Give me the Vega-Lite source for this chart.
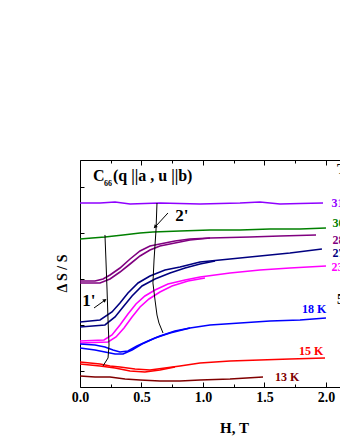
{
"$schema": "https://vega.github.io/schema/vega-lite/v6.json",
"width": 260, "height": 227,
"autosize": {"type": "none"},
"padding": {"left": 80, "top": 160, "right": 0, "bottom": 53},
"config": {"view": {"stroke": null}, "font": "Liberation Serif",
  "axis": {"grid": false, "domainColor": "black", "tickColor": "black", "labelColor": "black", "titleColor": "black", "labelFont": "Liberation Serif", "titleFont": "Liberation Serif", "labelFontWeight": "bold", "titleFontWeight": "bold", "labelFontSize": 14, "titleFontSize": 15}},
"datasets": {
"curves": [
{"s":"31 K","b":"a","h":0,"v":3.652},{"s":"31 K","b":"a","h":0.163,"v":3.652},{"s":"31 K","b":"a","h":0.285,"v":3.674},{"s":"31 K","b":"a","h":0.407,"v":3.63},{"s":"31 K","b":"a","h":0.65,"v":3.652},{"s":"31 K","b":"a","h":0.976,"v":3.63},{"s":"31 K","b":"a","h":1.301,"v":3.652},{"s":"31 K","b":"a","h":1.463,"v":3.674},{"s":"31 K","b":"a","h":1.626,"v":3.63},{"s":"31 K","b":"a","h":1.789,"v":3.641},{"s":"31 K","b":"a","h":1.976,"v":3.652},
{"s":"30 K","b":"a","h":0,"v":2.87},{"s":"30 K","b":"a","h":0.098,"v":2.891},{"s":"30 K","b":"a","h":0.203,"v":2.913},{"s":"30 K","b":"a","h":0.35,"v":2.957},{"s":"30 K","b":"a","h":0.488,"v":3.0},{"s":"30 K","b":"a","h":0.593,"v":3.022},{"s":"30 K","b":"a","h":0.813,"v":3.043},{"s":"30 K","b":"a","h":1.057,"v":3.065},{"s":"30 K","b":"a","h":1.301,"v":3.065},{"s":"30 K","b":"a","h":1.545,"v":3.087},{"s":"30 K","b":"a","h":1.789,"v":3.087},{"s":"30 K","b":"a","h":2.0,"v":3.109},
{"s":"28 K","b":"a","h":0,"v":1.957},{"s":"28 K","b":"a","h":0.122,"v":1.957},{"s":"28 K","b":"a","h":0.187,"v":2.0},{"s":"28 K","b":"a","h":0.244,"v":2.087},{"s":"28 K","b":"a","h":0.325,"v":2.239},{"s":"28 K","b":"a","h":0.407,"v":2.435},{"s":"28 K","b":"a","h":0.488,"v":2.609},{"s":"28 K","b":"a","h":0.569,"v":2.717},{"s":"28 K","b":"a","h":0.65,"v":2.761},{"s":"28 K","b":"a","h":0.772,"v":2.826},{"s":"28 K","b":"a","h":0.894,"v":2.87},{"s":"28 K","b":"a","h":1.057,"v":2.891},{"s":"28 K","b":"a","h":1.382,"v":2.913},{"s":"28 K","b":"a","h":1.626,"v":2.935},{"s":"28 K","b":"a","h":1.919,"v":2.957},
{"s":"28 K","b":"b","h":0,"v":1.913},{"s":"28 K","b":"b","h":0.163,"v":1.913},{"s":"28 K","b":"b","h":0.244,"v":2.0},{"s":"28 K","b":"b","h":0.325,"v":2.152},{"s":"28 K","b":"b","h":0.407,"v":2.326},{"s":"28 K","b":"b","h":0.488,"v":2.5},{"s":"28 K","b":"b","h":0.569,"v":2.63},{"s":"28 K","b":"b","h":0.65,"v":2.717},{"s":"28 K","b":"b","h":0.772,"v":2.783},{"s":"28 K","b":"b","h":0.894,"v":2.848},{"s":"28 K","b":"b","h":1.057,"v":2.891},
{"s":"27 K","b":"a","h":0,"v":1.065},{"s":"27 K","b":"a","h":0.163,"v":1.109},{"s":"27 K","b":"a","h":0.26,"v":1.283},{"s":"27 K","b":"a","h":0.325,"v":1.478},{"s":"27 K","b":"a","h":0.39,"v":1.696},{"s":"27 K","b":"a","h":0.472,"v":1.913},{"s":"27 K","b":"a","h":0.569,"v":2.065},{"s":"27 K","b":"a","h":0.691,"v":2.196},{"s":"27 K","b":"a","h":0.813,"v":2.261},{"s":"27 K","b":"a","h":0.976,"v":2.37},{"s":"27 K","b":"a","h":1.22,"v":2.435},{"s":"27 K","b":"a","h":1.463,"v":2.5},{"s":"27 K","b":"a","h":1.707,"v":2.565},{"s":"27 K","b":"a","h":1.967,"v":2.652},
{"s":"27 K","b":"b","h":0,"v":0.957},{"s":"27 K","b":"b","h":0.203,"v":1.0},{"s":"27 K","b":"b","h":0.285,"v":1.174},{"s":"27 K","b":"b","h":0.35,"v":1.391},{"s":"27 K","b":"b","h":0.423,"v":1.63},{"s":"27 K","b":"b","h":0.504,"v":1.848},{"s":"27 K","b":"b","h":0.61,"v":2.0},{"s":"27 K","b":"b","h":0.732,"v":2.13},{"s":"27 K","b":"b","h":0.854,"v":2.239},{"s":"27 K","b":"b","h":0.976,"v":2.326},{"s":"27 K","b":"b","h":1.098,"v":2.391},
{"s":"23 K","b":"a","h":0,"v":0.652},{"s":"23 K","b":"a","h":0.195,"v":0.674},{"s":"23 K","b":"a","h":0.26,"v":0.783},{"s":"23 K","b":"a","h":0.325,"v":1.0},{"s":"23 K","b":"a","h":0.39,"v":1.239},{"s":"23 K","b":"a","h":0.455,"v":1.457},{"s":"23 K","b":"a","h":0.528,"v":1.63},{"s":"23 K","b":"a","h":0.61,"v":1.761},{"s":"23 K","b":"a","h":0.715,"v":1.891},{"s":"23 K","b":"a","h":0.854,"v":1.978},{"s":"23 K","b":"a","h":0.976,"v":2.043},{"s":"23 K","b":"a","h":1.22,"v":2.13},{"s":"23 K","b":"a","h":1.463,"v":2.196},{"s":"23 K","b":"a","h":1.707,"v":2.239},{"s":"23 K","b":"a","h":2.0,"v":2.283},
{"s":"23 K","b":"b","h":0,"v":0.609},{"s":"23 K","b":"b","h":0.228,"v":0.63},{"s":"23 K","b":"b","h":0.293,"v":0.739},{"s":"23 K","b":"b","h":0.358,"v":0.935},{"s":"23 K","b":"b","h":0.423,"v":1.174},{"s":"23 K","b":"b","h":0.488,"v":1.391},{"s":"23 K","b":"b","h":0.561,"v":1.565},{"s":"23 K","b":"b","h":0.65,"v":1.717},{"s":"23 K","b":"b","h":0.748,"v":1.848},{"s":"23 K","b":"b","h":0.878,"v":1.957},{"s":"23 K","b":"b","h":1.016,"v":2.022},
{"s":"18 K","b":"a","h":0,"v":0.587},{"s":"18 K","b":"a","h":0.122,"v":0.565},{"s":"18 K","b":"a","h":0.203,"v":0.522},{"s":"18 K","b":"a","h":0.268,"v":0.457},{"s":"18 K","b":"a","h":0.325,"v":0.413},{"s":"18 K","b":"a","h":0.39,"v":0.435},{"s":"18 K","b":"a","h":0.463,"v":0.543},{"s":"18 K","b":"a","h":0.553,"v":0.652},{"s":"18 K","b":"a","h":0.65,"v":0.761},{"s":"18 K","b":"a","h":0.772,"v":0.87},{"s":"18 K","b":"a","h":0.894,"v":0.935},{"s":"18 K","b":"a","h":1.057,"v":1.0},{"s":"18 K","b":"a","h":1.301,"v":1.043},{"s":"18 K","b":"a","h":1.545,"v":1.087},{"s":"18 K","b":"a","h":1.789,"v":1.109},{"s":"18 K","b":"a","h":2.0,"v":1.152},
{"s":"18 K","b":"b","h":0,"v":0.5},{"s":"18 K","b":"b","h":0.122,"v":0.457},{"s":"18 K","b":"b","h":0.203,"v":0.413},{"s":"18 K","b":"b","h":0.285,"v":0.37},{"s":"18 K","b":"b","h":0.35,"v":0.37},{"s":"18 K","b":"b","h":0.423,"v":0.457},{"s":"18 K","b":"b","h":0.504,"v":0.587},{"s":"18 K","b":"b","h":0.61,"v":0.717},{"s":"18 K","b":"b","h":0.732,"v":0.826},{"s":"18 K","b":"b","h":0.894,"v":0.935},
{"s":"15 K","b":"a","h":0,"v":0.196},{"s":"15 K","b":"a","h":0.081,"v":0.174},{"s":"15 K","b":"a","h":0.163,"v":0.152},{"s":"15 K","b":"a","h":0.244,"v":0.109},{"s":"15 K","b":"a","h":0.325,"v":0.087},{"s":"15 K","b":"a","h":0.447,"v":0.043},{"s":"15 K","b":"a","h":0.569,"v":0.022},{"s":"15 K","b":"a","h":0.691,"v":0.065},{"s":"15 K","b":"a","h":0.813,"v":0.109},{"s":"15 K","b":"a","h":0.976,"v":0.174},{"s":"15 K","b":"a","h":1.22,"v":0.217},{"s":"15 K","b":"a","h":1.463,"v":0.239},{"s":"15 K","b":"a","h":1.707,"v":0.261},{"s":"15 K","b":"a","h":1.992,"v":0.283},
{"s":"15 K","b":"b","h":0,"v":0.152},{"s":"15 K","b":"b","h":0.163,"v":0.109},{"s":"15 K","b":"b","h":0.285,"v":0.065},{"s":"15 K","b":"b","h":0.407,"v":0.0},{"s":"15 K","b":"b","h":0.528,"v":-0.022},{"s":"15 K","b":"b","h":0.65,"v":0.022},{"s":"15 K","b":"b","h":0.772,"v":0.087},
{"s":"13 K","b":"a","h":0,"v":-0.109},{"s":"13 K","b":"a","h":0.122,"v":-0.13},{"s":"13 K","b":"a","h":0.244,"v":-0.13},{"s":"13 K","b":"a","h":0.366,"v":-0.174},{"s":"13 K","b":"a","h":0.488,"v":-0.196},{"s":"13 K","b":"a","h":0.65,"v":-0.217},{"s":"13 K","b":"a","h":0.813,"v":-0.217},{"s":"13 K","b":"a","h":0.976,"v":-0.196},{"s":"13 K","b":"a","h":1.22,"v":-0.174},{"s":"13 K","b":"a","h":1.488,"v":-0.13}
],
"guides": [
{"g":"1'","i":0,"h":0.203,"v":2.957},{"g":"1'","i":1,"h":0.211,"v":2.413},{"g":"1'","i":2,"h":0.22,"v":1.761},{"g":"1'","i":3,"h":0.228,"v":1.109},{"g":"1'","i":4,"h":0.236,"v":0.565},{"g":"1'","i":5,"h":0.228,"v":0.283},{"g":"1'","i":6,"h":0.187,"v":0.109},
{"g":"2'","i":0,"h":0.626,"v":3.652},{"g":"2'","i":1,"h":0.618,"v":3.065},{"g":"2'","i":2,"h":0.602,"v":2.413},{"g":"2'","i":3,"h":0.593,"v":1.913},{"g":"2'","i":4,"h":0.61,"v":1.543},{"g":"2'","i":5,"h":0.626,"v":1.217},{"g":"2'","i":6,"h":0.642,"v":1.043},{"g":"2'","i":7,"h":0.675,"v":0.826},
{"g":"a1","i":0,"h":0.114,"v":1.37},{"g":"a1","i":1,"h":0.198,"v":1.53},
{"g":"a2","i":0,"h":0.715,"v":3.435},{"g":"a2","i":1,"h":0.614,"v":3.14}
],
"heads1": [{"h":0.203,"v":1.543}],
"heads2": [{"h":0.61,"v":3.13}],
"tlabels": [
{"s":"31 K","h":2.045,"v":3.652},{"s":"30 K","h":2.053,"v":3.217},{"s":"28 K","h":2.053,"v":2.848},{"s":"27 K","h":2.053,"v":2.565},{"s":"23 K","h":2.045,"v":2.261},{"s":"18 K","h":1.805,"v":1.348},{"s":"15 K","h":1.78,"v":0.435},{"s":"13 K","h":1.585,"v":-0.141}
],
"marks": [{"t":"1'","h":0.073,"v":1.522},{"t":"2'","h":0.829,"v":3.37}],
"title1": [{"t":"C","h":0.106,"v":4.24},{"t":"(q ||a , u ||b)","h":0.268,"v":4.24}],
"title2": [{"t":"66","h":0.195,"v":4.06}],
"misc": [{"t":"5","h":2.089,"v":1.543},{"t":"T","h":2.089,"v":4.37}]
},
"layer": [
{"data": {"name": "curves"}, "mark": {"type": "line", "strokeWidth": 1.6, "clip": true},
 "encoding": {
  "x": {"field": "h", "type": "quantitative", "scale": {"domain": [0, 2.114], "nice": false, "zero": false},
        "axis": {"orient": "bottom", "values": [0,0.25,0.5,0.75,1,1.25,1.5,1.75,2], "labelExpr": "datum.value*2 == round(datum.value*2) ? format(datum.value, '.1f') : ''",
                 "tickSize": {"condition": {"test": "datum.value*2 == round(datum.value*2)", "value": -5}, "value": -3},
                 "labelPadding": 8, "title": "H, T", "titlePadding": 14, "titleX": 154, "labelFlush": false, "labelOverlap": false}},
  "y": {"field": "v", "type": "quantitative", "scale": {"domain": [-0.348, 4.587], "nice": false, "zero": false},
        "axis": {"orient": "left", "values": [0,1,2,3,4], "tickSize": -4, "labels": false, "title": "Δ S / S", "titleFontSize": 14, "titleX": -11, "titleY": 113, "titleAngle": -90, "titleBaseline": "bottom", "titleAlign": "center"}},
  "color": {"field": "s", "type": "nominal", "legend": null,
        "scale": {"domain": ["31 K","30 K","28 K","27 K","23 K","18 K","15 K","13 K"], "range": ["#8f00ff","#008000","#800080","#000080","#ff00ff","#0000ff","#ff0000","#800000"]}},
  "detail": {"field": "b"}
 }},
{"data": {"name": "guides"}, "mark": {"type": "line", "color": "black", "strokeWidth": 1},
 "encoding": {
  "x": {"field": "h", "type": "quantitative",
        "axis": {"orient": "top", "values": [0,0.25,0.5,0.75,1,1.25,1.5,1.75,2], "labels": false, "title": null,
                 "tickSize": {"condition": {"test": "datum.value*2 == round(datum.value*2)", "value": -5}, "value": -3}}},
  "y": {"field": "v", "type": "quantitative", "axis": null},
  "detail": {"field": "g"},
  "order": {"field": "i"}
 }},
{"data": {"name": "heads1"}, "mark": {"type": "point", "shape": "triangle-up", "filled": true, "color": "black", "size": 18, "angle": 54, "opacity": 1},
 "encoding": {"x": {"field": "h", "type": "quantitative", "axis": null}, "y": {"field": "v", "type": "quantitative", "axis": null}}},
{"data": {"name": "heads2"}, "mark": {"type": "point", "shape": "triangle-up", "filled": true, "color": "black", "size": 18, "angle": 223, "opacity": 1},
 "encoding": {"x": {"field": "h", "type": "quantitative", "axis": null}, "y": {"field": "v", "type": "quantitative", "axis": null}}},
{"data": {"name": "tlabels"}, "mark": {"type": "text", "align": "left", "baseline": "middle", "fontSize": 12, "fontWeight": "bold", "font": "Liberation Serif"},
 "encoding": {"x": {"field": "h", "type": "quantitative", "axis": null}, "y": {"field": "v", "type": "quantitative", "axis": null},
  "text": {"field": "s"}, "color": {"field": "s", "type": "nominal", "legend": null}}},
{"data": {"name": "marks"}, "mark": {"type": "text", "align": "center", "baseline": "middle", "fontSize": 17, "fontWeight": "bold", "font": "Liberation Serif", "color": "black"},
 "encoding": {"x": {"field": "h", "type": "quantitative", "axis": null}, "y": {"field": "v", "type": "quantitative", "axis": null}, "text": {"field": "t"}}},
{"data": {"name": "title1"}, "mark": {"type": "text", "align": "left", "baseline": "middle", "fontSize": 16, "fontWeight": "bold", "font": "Liberation Serif", "color": "black"},
 "encoding": {"x": {"field": "h", "type": "quantitative", "axis": null}, "y": {"field": "v", "type": "quantitative", "axis": null}, "text": {"field": "t"}}},
{"data": {"name": "title2"}, "mark": {"type": "text", "align": "left", "baseline": "middle", "fontSize": 8, "fontWeight": "bold", "font": "Liberation Serif", "color": "black"},
 "encoding": {"x": {"field": "h", "type": "quantitative", "axis": null}, "y": {"field": "v", "type": "quantitative", "axis": null}, "text": {"field": "t"}}},
{"data": {"name": "misc"}, "mark": {"type": "text", "align": "left", "baseline": "middle", "fontSize": 14, "fontWeight": "bold", "font": "Liberation Serif", "color": "black"},
 "encoding": {"x": {"field": "h", "type": "quantitative", "axis": null}, "y": {"field": "v", "type": "quantitative", "axis": null}, "text": {"field": "t"}}}
],
"resolve": {"axis": {"x": "independent", "y": "independent"}}
}
